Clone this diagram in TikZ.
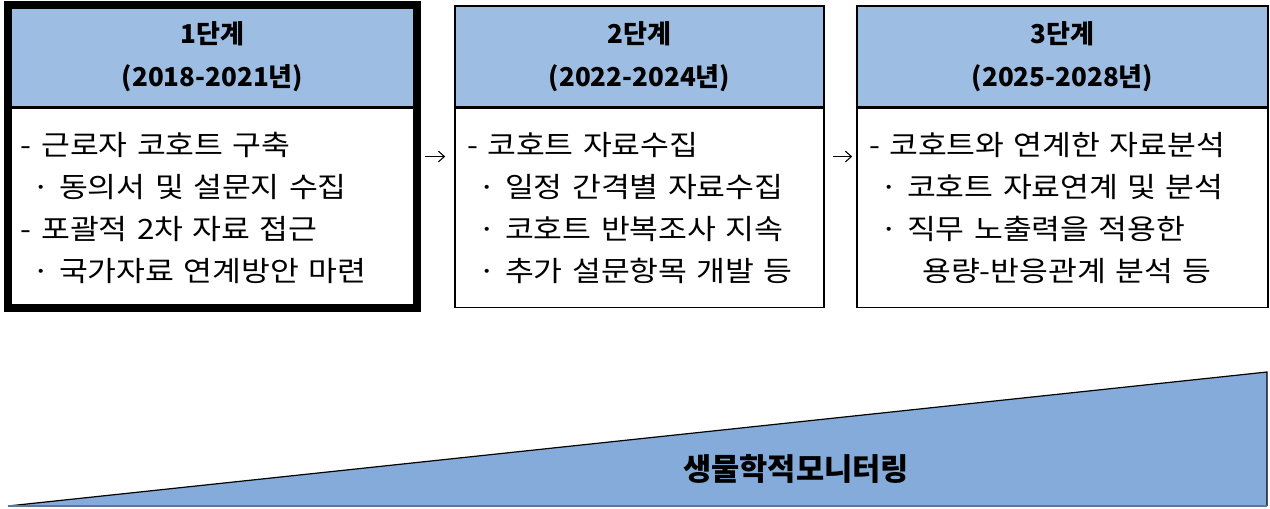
\documentclass[tikz,border=0pt]{standalone}
\usepackage{fontspec}
\setmainfont{Noto Sans CJK KR}[WordSpace=1.8]
\newfontfamily\bodyfont{Noto Sans CJK KR}[FakeStretch=1.12, WordSpace=1.6]
\usetikzlibrary{positioning,fit,arrows.meta}

\definecolor{headblue}{RGB}{158,189,226}
\definecolor{wedgeblue}{RGB}{132,171,217}

\tikzset{
  head/.style={draw, line width=0.8pt, fill=headblue, minimum height=75.75pt, inner sep=0pt,
    align=center, font={\fontsize{19.5pt}{32.25pt}\selectfont\bfseries}},
  body/.style={draw, line width=0.8pt, minimum height=149.25pt, inner xsep=9pt, inner ysep=0pt,
    align=left, font={\bodyfont\fontsize{21pt}{31.5pt}\selectfont}},
  frame/.style={draw, inner sep=0pt},
  step arrow/.style={line width=0.8pt, -{Straight Barb[length=4.5pt,width=8pt]}}
}

\begin{document}
\begin{tikzpicture}[x=0.75pt,y=-0.75pt]
\useasboundingbox (0,0) rectangle (1270,508);

% stage 1
\node[head, minimum width=305.25pt] (h1) at (212.5,56.5) {1단계\\(2018-2021년)};
\node[body, text width=287.25pt, below=0pt of h1] (t1) {- 근로자 코호트 구축\\
  \hspace*{0.4em}· 동의서 및 설문지 수집\\
  - 포괄적 2차 자료 접근\\
  \hspace*{0.4em}· 국가자료 연계방안 마련};
\node[frame, line width=6pt, fit=(h1)(t1)] (b1) {};

% stage 2
\node[head, minimum width=276.75pt] (h2) at (639.5,56.5) {2단계\\(2022-2024년)};
\node[body, text width=258.75pt, below=0pt of h2] (t2) {- 코호트 자료수집\\
  \hspace*{0.4em}· 일정 간격별 자료수집\\
  \hspace*{0.4em}· 코호트 반복조사 지속\\
  \hspace*{0.4em}· 추가 설문항목 개발 등};
\node[frame, fit=(h2)(t2)] (b2) {};

% stage 3
\node[head, minimum width=308.25pt] (h3) at (1062.5,56.5) {3단계\\(2025-2028년)};
\node[body, text width=290.25pt, below=0pt of h3] (t3) {- 코호트와 연계한 자료분석\\
  \hspace*{0.4em}· 코호트 자료연계 및 분석\\
  \hspace*{0.4em}· 직무 노출력을 적용한\\
  \hspace*{1.9em}용량-반응관계 분석 등};
\node[frame, fit=(h3)(t3)] (b3) {};

\draw[step arrow, shorten <=3pt, shorten >=6.75pt] (b1) -- (b2);
\draw[step arrow, shorten <=6pt, shorten >=3pt] (b2) -- (b3);

% monitoring wedge
\fill[wedgeblue] (8,506) -- (1267,372) -- (1267,506) -- cycle;
\draw[line width=0.9pt] (8,506) -- (1267,372) -- (1267,506);
\draw[line width=0.9pt, color=wedgeblue!70!black] (8,506) -- (1267,506);
\node[font={\fontsize{23pt}{25pt}\selectfont\bfseries}] (mon) at (796,469) {생물학적모니터링};
\end{tikzpicture}
\end{document}
